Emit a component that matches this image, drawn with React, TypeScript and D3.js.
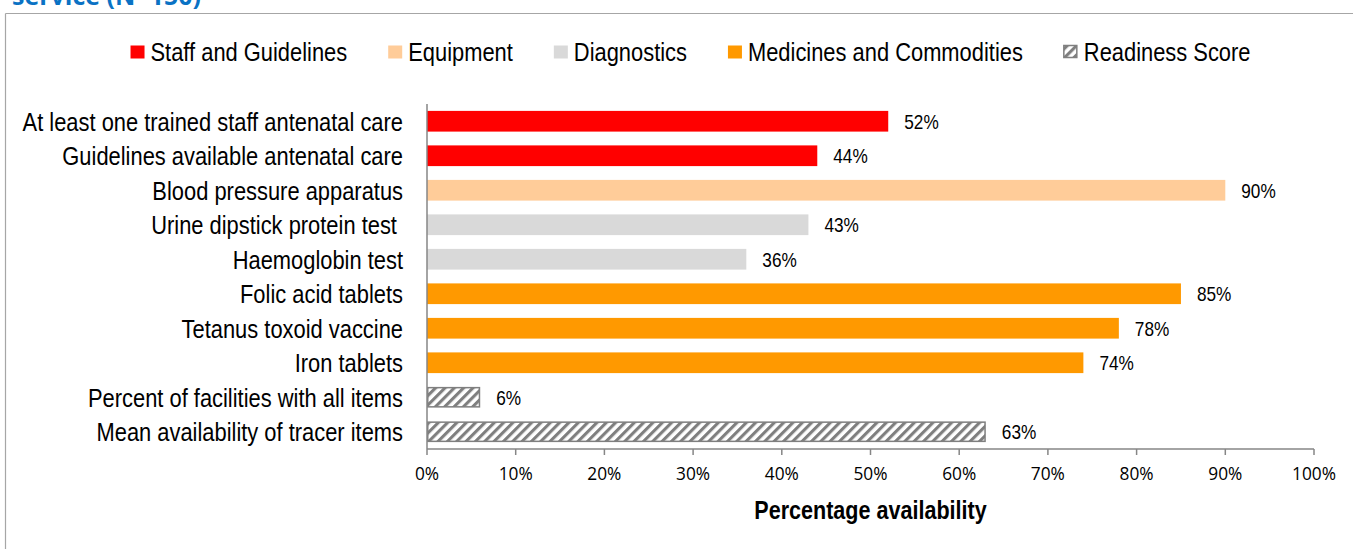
import React, { useMemo } from "react";
import * as d3 from "d3";

const categories = [
  "At least one trained staff antenatal care",
  "Guidelines available antenatal care",
  "Blood pressure apparatus",
  "Urine dipstick protein test ",
  "Haemoglobin test",
  "Folic acid tablets",
  "Tetanus toxoid vaccine",
  "Iron tablets",
  "Percent of facilities with all items",
  "Mean availability of tracer items",
];
const values = [52, 44, 90, 43, 36, 85, 78, 74, 6, 63];
const groupOf = [0, 0, 1, 2, 2, 3, 3, 3, 4, 4];
const legendLabels = [
  "Staff and Guidelines",
  "Equipment",
  "Diagnostics",
  "Medicines and Commodities",
  "Readiness Score",
];
const groupColors = ["#FF0000", "#FFCC99", "#D9D9D9", "#FF9900", "url(#hatch)"];
const xTicks = [0, 10, 20, 30, 40, 50, 60, 70, 80, 90, 100];
const titleText = "service (N=150)";
const axisTitle = "Percentage availability";

const W = 1353;
const H = 549;
const SANS = "'Liberation Sans', Arial, sans-serif";
const NARROW_SCALE = 0.82;
const TICKFONT = "'Open Sans', 'Noto Sans', sans-serif";

function NText(props: {
  x: number;
  y: number;
  size: number;
  anchor?: "start" | "middle" | "end";
  bold?: boolean;
  dy?: string;
  children: React.ReactNode;
}) {
  const { x, y, size, anchor = "start", bold = false, dy, children } = props;
  return (
    <text
      transform={`translate(${x},${y}) scale(${NARROW_SCALE},1)`}
      dy={dy}
      textAnchor={anchor}
      fontFamily={SANS}
      fontSize={size}
      fontWeight={bold ? "bold" : "normal"}
      fill="#000"
      style={{ whiteSpace: "pre" }}
    >
      {children}
    </text>
  );
}

export default function App() {
  const x = d3.scaleLinear().domain([0, 100]).range([427, 1314]);
  const y = d3
    .scaleBand<string>()
    .domain(categories)
    .range([104, 449])
    .paddingInner(0.4)
    .paddingOuter(0.2);

  const legendFont = 26.7;
  const legend = useMemo(() => {
    const canvas = document.createElement("canvas");
    const ctx = canvas.getContext("2d")!;
    ctx.font = `${legendFont}px ${SANS}`;
    const sq = 14;
    const gapText = 6;
    const gapItem = 41;
    const widths = legendLabels.map((l) => ctx.measureText(l).width * NARROW_SCALE);
    const total =
      widths.reduce((a, b) => a + b, 0) +
      legendLabels.length * (sq + gapText) +
      (legendLabels.length - 1) * gapItem;
    let cur = 690.5 - total / 2;
    return legendLabels.map((l, i) => {
      const item = { label: l, x: cur, color: groupColors[i] };
      cur += sq + gapText + widths[i] + gapItem;
      return item;
    });
  }, []);

  return (
    <svg
      width={W}
      height={H}
      style={{ position: "absolute", left: 0, top: 0, display: "block", background: "#fff" }}
    >
      <defs>
        <pattern
          id="hatch"
          patternUnits="userSpaceOnUse"
          width={6.6}
          height={6.6}
          patternTransform="rotate(45)"
        >
          <rect width={6.6} height={6.6} fill="#ffffff" />
          <rect x={0} y={0} width={3.1} height={6.6} fill="#7F7F7F" />
        </pattern>
      </defs>

      <text
        x={12}
        y={5}
        fontFamily={TICKFONT}
        fontWeight="bold"
        fontSize={25}
        fill="#0A72C4"
      >
        {titleText}
      </text>

      {/* frame */}
      <line x1={5.5} x2={W} y1={13.5} y2={13.5} stroke="#A6A6A6" strokeWidth={1.2} />
      <line x1={5.5} x2={5.5} y1={13.5} y2={H} stroke="#A6A6A6" strokeWidth={1.2} />

      {/* legend */}
      {legend.map((it, i) => (
        <g key={i}>
          <rect
            x={it.x}
            y={45.5}
            width={i === 4 ? 13 : 14}
            height={i === 4 ? 12 : 13}
            fill={it.color}
            stroke={i === 4 ? "#7F7F7F" : "none"}
            strokeWidth={1.5}
          />
          <NText x={it.x + 20} y={61} size={legendFont}>
            {it.label}
          </NText>
        </g>
      ))}

      {/* bars */}
      {categories.map((c, i) => {
        const g = groupOf[i];
        const hatched = g === 4;
        const y0 = y(c)!;
        const bw = y.bandwidth();
        return (
          <g key={c}>
            <rect
              x={x(0) + (hatched ? 0.75 : 0)}
              y={y0 + (hatched ? 0.75 : 0)}
              width={x(values[i]) - x(0) - (hatched ? 1.5 : 0)}
              height={bw - (hatched ? 1.5 : 0)}
              fill={groupColors[g]}
              stroke={hatched ? "#7F7F7F" : "none"}
              strokeWidth={hatched ? 1.5 : 0}
            />
            <NText x={x(values[i]) + 16} y={y0 + bw / 2} dy="0.36em" size={21}>
              {values[i] + "%"}
            </NText>
            <NText x={403} y={y0 + bw / 2} dy="0.36em" anchor="end" size={legendFont}>
              {c}
            </NText>
          </g>
        );
      })}

      {/* axes */}
      <line x1={x(0)} x2={x(0)} y1={104} y2={449} stroke="#868686" strokeWidth={1.5} />
      <line x1={x(0)} x2={x(100)} y1={449} y2={449} stroke="#868686" strokeWidth={1.5} />
      {xTicks.map((t) => (
        <g key={t}>
          <line x1={x(t)} x2={x(t)} y1={449} y2={455} stroke="#868686" strokeWidth={1.5} />
          <text
            x={x(t)}
            y={480}
            textAnchor="middle"
            fontFamily={TICKFONT}
            fontSize={17.3}
            fill="#000"
          >
            {t + "%"}
          </text>
        </g>
      ))}
      <NText x={(x(0) + x(100)) / 2} y={519} anchor="middle" bold size={26.3}>
        {axisTitle}
      </NText>
    </svg>
  );
}
